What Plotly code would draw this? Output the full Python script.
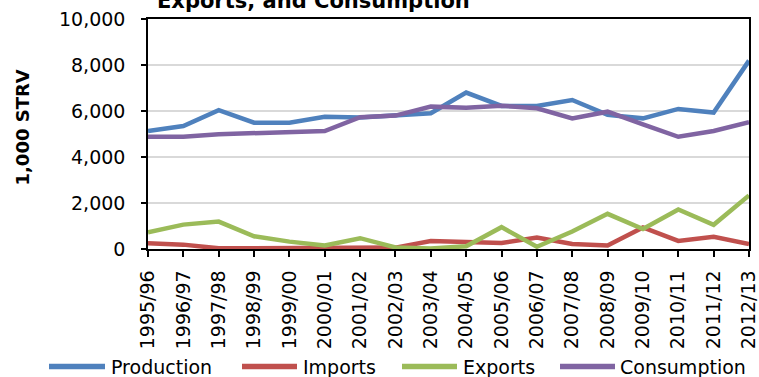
import plotly.graph_objects as go

# Marketing years and series, 1,000 STRV
seasons = ["1995/96", "1996/97", "1997/98", "1998/99", "1999/00", "2000/01",
           "2001/02", "2002/03", "2003/04", "2004/05", "2005/06", "2006/07",
           "2007/08", "2008/09", "2009/10", "2010/11", "2011/12", "2012/13"]
production = [5130, 5350, 6040, 5490, 5490, 5750, 5720, 5830, 5900, 6800,
              6220, 6220, 6480, 5830, 5680, 6090, 5930, 8190]
imports = [250, 190, 30, 30, 30, 30, 30, 60, 350, 290,
           260, 500, 220, 150, 940, 350, 530, 210]
exports = [730, 1060, 1190, 550, 320, 150, 470, 70, 20, 120,
           950, 100, 760, 1530, 870, 1720, 1050, 2330]
consumption = [4880, 4880, 4990, 5030, 5060, 5130, 5730, 5800, 6190, 6140,
               6230, 6120, 5680, 5970, 5420, 4880, 5130, 5510]

series_names = ["Production", "Imports", "Exports", "Consumption"]
series_values = [production, imports, exports, consumption]
colors = ["#4F81BD", "#C0504D", "#9BBB59", "#8064A2"]

W, H = 759, 377
L, R, T, B = 148, 10, 19, 128
PW, PH = W - L - R, H - T - B

FONT = "DejaVu Sans"
TICK_FONT = dict(family=FONT, size=19, color="black")


def px_x(x):
    return (x - L) / PW


def px_y(y):
    return (H - B - y) / PH


fig = go.Figure()
for name, vals, col in zip(series_names, series_values, colors):
    fig.add_trace(go.Scatter(x=seasons, y=vals, mode="lines", name=name,
                             line=dict(color=col, width=4.5),
                             showlegend=False))

annotations = [
    dict(text="<b>Exports, and Consumption</b>", xref="paper", yref="paper",
         x=px_x(313), y=px_y(1), xanchor="center", yanchor="middle",
         showarrow=False, font=dict(family=FONT, size=21, color="black")),
    dict(text="<b>1,000 STRV</b>", xref="paper", yref="paper",
         x=px_x(22), y=px_y(127.5), xanchor="center", yanchor="middle",
         textangle=-90, showarrow=False,
         font=dict(family=FONT, size=18, color="black")),
]

# Legend drawn as line samples and labels below the axis
legend_lines = [(49, 105), (242, 297), (402, 457), (560, 615)]
legend_text_x = [109, 301, 461, 618]
LEG_Y = 366.5
shapes = []
for (x0, x1), tx, name, col in zip(legend_lines, legend_text_x,
                                   series_names, colors):
    shapes.append(dict(type="line", xref="paper", yref="paper",
                       x0=px_x(x0), x1=px_x(x1), y0=px_y(LEG_Y),
                       y1=px_y(LEG_Y), line=dict(color=col, width=5.5)))
    annotations.append(dict(text=name, xref="paper", yref="paper",
                            x=px_x(tx), y=px_y(LEG_Y), xanchor="left",
                            yanchor="middle", showarrow=False,
                            font=dict(family=FONT, size=19, color="black")))

fig.update_layout(
    width=W, height=H,
    margin=dict(l=L, r=R, t=T, b=B, autoexpand=False),
    paper_bgcolor="white", plot_bgcolor="white",
    font=dict(family=FONT, size=19, color="black"),
    xaxis=dict(type="category", range=[0, len(seasons) - 1],
               tickangle=-90, ticks="outside", ticklen=6, tickwidth=1.5,
               tickcolor="black", tickfont=TICK_FONT, ticklabelstandoff=6,
               showline=True, linecolor="black", linewidth=1.5, mirror=True,
               showgrid=False, automargin=False),
    yaxis=dict(range=[0, 10000], dtick=2000, tickformat=",",
               ticks="outside", ticklen=5, tickwidth=1.5, tickcolor="black",
               tickfont=TICK_FONT, ticklabelstandoff=12,
               showline=True, linecolor="black", linewidth=1.5, mirror=True,
               showgrid=True, gridcolor="#D9D9D9", gridwidth=1.5,
               zeroline=False, automargin=False),
    annotations=annotations, shapes=shapes,
)

fig.write_html("out.html")
